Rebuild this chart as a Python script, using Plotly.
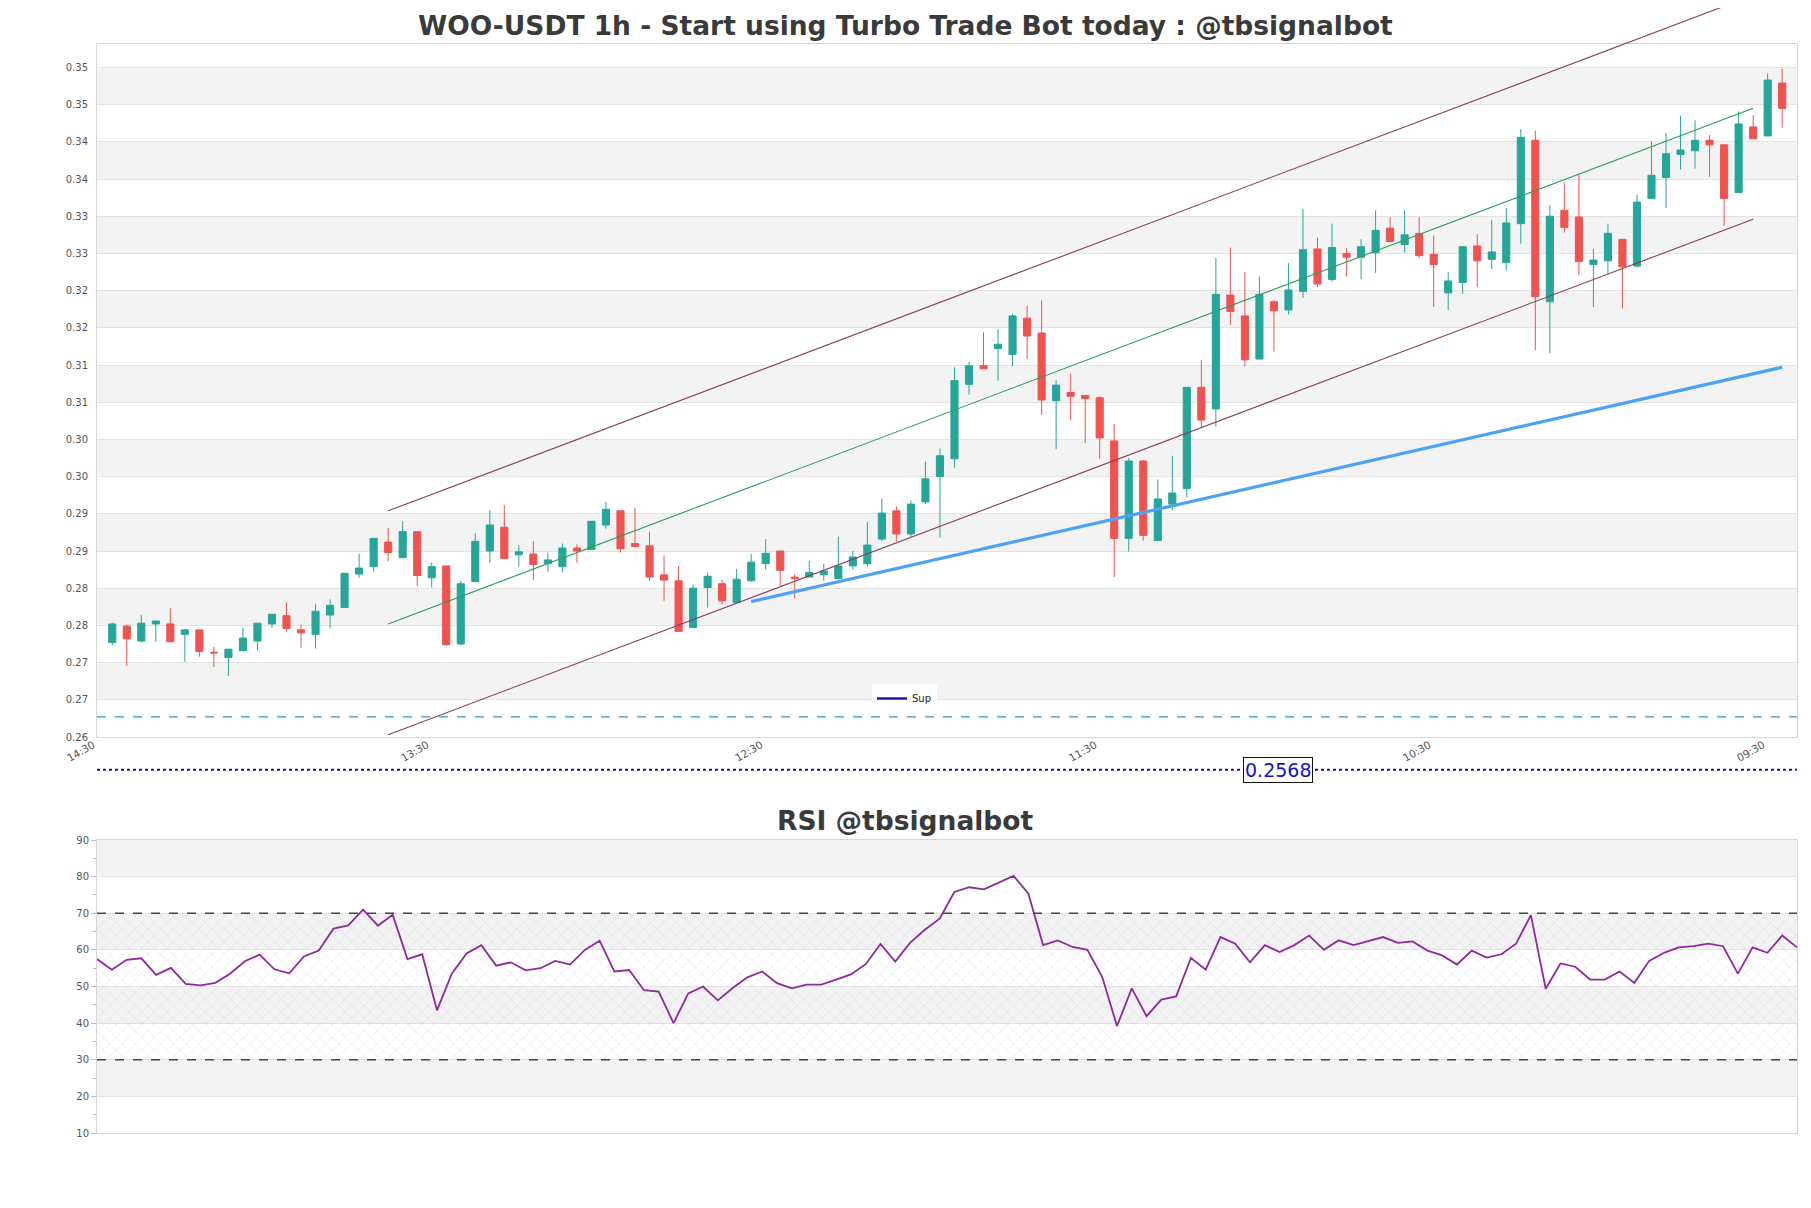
import plotly.graph_objects as go

# ---------------- data ----------------
candle_idx = list(range(116))
opens = [0.2739, 0.2761, 0.2741, 0.2764, 0.2764, 0.2750, 0.2756, 0.2726, 0.2719, 0.2728,
         0.2741, 0.2764, 0.2775, 0.2756, 0.2750, 0.2776, 0.2786, 0.2831, 0.2841, 0.2874,
         0.2853, 0.2888, 0.2826, 0.2842, 0.2737, 0.2821, 0.2862, 0.2894, 0.2857, 0.2858,
         0.2845, 0.2841, 0.2866, 0.2864, 0.2897, 0.2916, 0.2872, 0.2869, 0.2830, 0.2822,
         0.2759, 0.2813, 0.2818, 0.2793, 0.2822, 0.2845, 0.2862, 0.2827, 0.2827, 0.2830,
         0.2825, 0.2842, 0.2845, 0.2878, 0.2916, 0.2885, 0.2928, 0.2962, 0.2986, 0.3086,
         0.3111, 0.3134, 0.3126, 0.3175, 0.3155, 0.3064, 0.3075, 0.3071, 0.3068, 0.3010,
         0.2879, 0.2983, 0.2876, 0.2925, 0.2946, 0.3082, 0.3053, 0.3206, 0.3178, 0.3120,
         0.3197, 0.3186, 0.3211, 0.3268, 0.3227, 0.3262, 0.3257, 0.3263, 0.3296, 0.3274,
         0.3289, 0.3261, 0.3209, 0.3223, 0.3272, 0.3254, 0.3250, 0.3302, 0.3414, 0.3197,
         0.3320, 0.3311, 0.3247, 0.3252, 0.3281, 0.3245, 0.3336, 0.3364, 0.3395, 0.3400,
         0.3414, 0.3408, 0.3344, 0.3432, 0.3420, 0.3491]
highs = [0.2766, 0.2763, 0.2776, 0.2768, 0.2785, 0.2757, 0.2756, 0.2733, 0.2730, 0.2759,
         0.2765, 0.2777, 0.2793, 0.2763, 0.2791, 0.2797, 0.2832, 0.2858, 0.2879, 0.2893,
         0.2902, 0.2888, 0.2847, 0.2842, 0.2822, 0.2886, 0.2917, 0.2924, 0.2870, 0.2875,
         0.2860, 0.2872, 0.2871, 0.2902, 0.2928, 0.2916, 0.2920, 0.2888, 0.2856, 0.2842,
         0.2817, 0.2833, 0.2823, 0.2838, 0.2858, 0.2878, 0.2862, 0.2831, 0.2849, 0.2845,
         0.2881, 0.2862, 0.2901, 0.2932, 0.2922, 0.2930, 0.2982, 0.3000, 0.3109, 0.3116,
         0.3156, 0.3160, 0.3181, 0.3192, 0.3199, 0.3092, 0.3100, 0.3071, 0.3070, 0.3033,
         0.2987, 0.2984, 0.2958, 0.2990, 0.3082, 0.3119, 0.3256, 0.3270, 0.3237, 0.3231,
         0.3199, 0.3249, 0.3322, 0.3283, 0.3302, 0.3269, 0.3281, 0.3320, 0.3311, 0.3320,
         0.3311, 0.3286, 0.3237, 0.3271, 0.3288, 0.3307, 0.3323, 0.3429, 0.3427, 0.3327,
         0.3357, 0.3367, 0.3268, 0.3302, 0.3281, 0.3341, 0.3413, 0.3424, 0.3447, 0.3441,
         0.3421, 0.3408, 0.3453, 0.3448, 0.3504, 0.3510]
lows = [0.2735, 0.2708, 0.2739, 0.2740, 0.2740, 0.2713, 0.2720, 0.2706, 0.2694, 0.2728,
        0.2728, 0.2759, 0.2754, 0.2732, 0.2731, 0.2758, 0.2786, 0.2826, 0.2834, 0.2848,
        0.2853, 0.2815, 0.2813, 0.2735, 0.2735, 0.2821, 0.2846, 0.2852, 0.2841, 0.2823,
        0.2834, 0.2833, 0.2846, 0.2864, 0.2892, 0.2860, 0.2868, 0.2822, 0.2795, 0.2754,
        0.2759, 0.2786, 0.2790, 0.2793, 0.2821, 0.2837, 0.2814, 0.2798, 0.2827, 0.2822,
        0.2825, 0.2837, 0.2841, 0.2875, 0.2875, 0.2881, 0.2925, 0.2880, 0.2974, 0.3072,
        0.3107, 0.3091, 0.3110, 0.3120, 0.3045, 0.2999, 0.3038, 0.3007, 0.2986, 0.2827,
        0.2861, 0.2876, 0.2876, 0.2917, 0.2934, 0.3028, 0.3029, 0.3166, 0.3110, 0.3120,
        0.3130, 0.3180, 0.3202, 0.3217, 0.3224, 0.3231, 0.3227, 0.3236, 0.3278, 0.3263,
        0.3256, 0.3190, 0.3186, 0.3208, 0.3217, 0.3241, 0.3239, 0.3275, 0.3132, 0.3128,
        0.3290, 0.3233, 0.3190, 0.3235, 0.3188, 0.3243, 0.3336, 0.3323, 0.3375, 0.3376,
        0.3365, 0.3299, 0.3344, 0.3416, 0.3420, 0.3431]
closes = [0.2764, 0.2744, 0.2765, 0.2768, 0.2740, 0.2756, 0.2727, 0.2725, 0.2730, 0.2745,
          0.2765, 0.2777, 0.2758, 0.2752, 0.2781, 0.2789, 0.2832, 0.2839, 0.2879, 0.2860,
          0.2888, 0.2829, 0.2841, 0.2736, 0.2818, 0.2875, 0.2897, 0.2852, 0.2861, 0.2844,
          0.2850, 0.2866, 0.2862, 0.2902, 0.2918, 0.2865, 0.2868, 0.2827, 0.2823, 0.2754,
          0.2812, 0.2828, 0.2795, 0.2824, 0.2847, 0.2859, 0.2836, 0.2825, 0.2833, 0.2835,
          0.2842, 0.2854, 0.2870, 0.2913, 0.2885, 0.2925, 0.2959, 0.2990, 0.3091, 0.3111,
          0.3107, 0.3140, 0.3178, 0.3151, 0.3065, 0.3085, 0.3070, 0.3067, 0.3014, 0.2879,
          0.2983, 0.2883, 0.2932, 0.2940, 0.3082, 0.3038, 0.3207, 0.3184, 0.3119, 0.3207,
          0.3185, 0.3213, 0.3267, 0.3221, 0.3270, 0.3257, 0.3271, 0.3293, 0.3278, 0.3287,
          0.3259, 0.3247, 0.3225, 0.3271, 0.3252, 0.3264, 0.3303, 0.3418, 0.3204, 0.3312,
          0.3297, 0.3251, 0.3253, 0.3289, 0.3244, 0.3331, 0.3367, 0.3396, 0.3401, 0.3414,
          0.3408, 0.3336, 0.3436, 0.3416, 0.3495, 0.3457]

xtick_pos = [0, 23, 46, 69, 92, 115]
xtick_labels = ["14:30", "13:30", "12:30", "11:30", "10:30", "09:30"]

ytick_vals = [0.2612, 0.2662, 0.2712, 0.2762, 0.2812, 0.2862, 0.2912, 0.2962, 0.3012, 0.3062,
              0.3112, 0.3162, 0.3212, 0.3262, 0.3312, 0.3362, 0.3412, 0.3462, 0.3512]
ytick_labels = ["0.26", "0.27", "0.27", "0.28", "0.28", "0.29", "0.29", "0.30", "0.30", "0.31",
                "0.31", "0.32", "0.32", "0.33", "0.33", "0.34", "0.34", "0.35", "0.35"]
y_range = [0.2612, 0.35435]

# trend channel (start/end candle index and price)
chan_x = [19, 113]
chan_upper = [0.2916, 0.3609]
chan_mid = [0.2764, 0.3457]
chan_lower = [0.2615, 0.3308]

# support line
sup_x = [44, 115]
sup_y = [0.2794, 0.3109]

dash_level = 0.2639
sup_level = 0.2568
sup_label_x = 80.3

rsi_idx = list(range(116))
rsi = [57.5, 54.6, 57.3, 57.7, 53.2, 55.1, 50.7, 50.3, 51.0, 53.5,
       56.9, 58.7, 54.7, 53.6, 58.2, 59.8, 65.8, 66.7, 71.0, 66.6,
       69.6, 57.5, 58.8, 43.5, 53.5, 59.0, 61.3, 55.7, 56.6, 54.4,
       55.0, 57.0, 56.0, 60.0, 62.5, 54.1, 54.5, 49.0, 48.6, 40.0,
       48.1, 50.0, 46.2, 49.6, 52.5, 54.1, 50.9, 49.5, 50.5, 50.5,
       51.9, 53.3, 56.1, 61.6, 56.8, 61.9, 65.5, 68.5, 75.8, 77.1,
       76.5, 78.3, 80.2, 75.4, 61.3, 62.6, 60.8, 60.0, 52.6, 39.2,
       49.5, 41.9, 46.4, 47.3, 57.8, 54.6, 63.5, 61.7, 56.6, 61.3,
       59.4, 61.3, 63.9, 60.0, 62.6, 61.3, 62.3, 63.5, 61.9, 62.3,
       59.8, 58.5, 56.0, 59.8, 57.9, 58.8, 61.7, 69.5, 49.4, 56.3,
       55.4, 51.9, 51.9, 54.1, 51.0, 57.0, 59.2, 60.7, 61.0, 61.7,
       61.0, 53.5, 60.7, 59.2, 63.9, 60.7]
rsi_ticks = [10, 20, 30, 40, 50, 60, 70, 80, 90]
rsi_levels = [70, 30]
rsi_range = [10, 90]

# ---------------- layout geometry ----------------
# the page body adds an 8px margin, so the figure itself is placed 8px in
OFF = 8
W, H = 1795, 1192


def px_x(p):
    return (p - OFF) / W


def px_y(p):
    return (H - (p - OFF)) / H


x_dom = [px_x(97), px_x(1797)]
y_dom_main = [px_y(737), px_y(44)]
y_dom_rsi = [px_y(1133), px_y(840)]


def ypaper(v):
    return y_dom_main[0] + (v - y_range[0]) / (y_range[1] - y_range[0]) * (y_dom_main[1] - y_dom_main[0])


GRID = "#e3e3e3"
BORDER = "#d6d6d6"
STRIPE = "#f3f3f3"
TICKFONT = dict(family="DejaVu Sans", size=10, color="#555555")
TITLEFONT = dict(family="DejaVu Sans", size=26.5, color="#3a3a3a")

fig = go.Figure()

fig.add_trace(go.Candlestick(
    x=candle_idx, open=opens, high=highs, low=lows, close=closes,
    increasing=dict(line=dict(color="#26a69a", width=1), fillcolor="#26a69a"),
    decreasing=dict(line=dict(color="#ef5350", width=1), fillcolor="#ef5350"),
    whiskerwidth=0, showlegend=False, xaxis="x", yaxis="y", name="WOO-USDT"))

fig.add_trace(go.Scatter(
    x=sup_x, y=sup_y, mode="lines", line=dict(color="#4da3f3", width=3.2),
    showlegend=False, xaxis="x", yaxis="y", hoverinfo="skip"))

# legend entry for the Sup level
fig.add_trace(go.Scatter(
    x=[None], y=[None], mode="lines", name="Sup",
    line=dict(color="#1a1aa6", width=2.5), xaxis="x", yaxis="y"))

# RSI hatched zone
fig.add_trace(go.Scatter(
    x=[rsi_idx[0], rsi_idx[-1], rsi_idx[-1], rsi_idx[0], rsi_idx[0]],
    y=[rsi_levels[1], rsi_levels[1], rsi_levels[0], rsi_levels[0], rsi_levels[1]],
    mode="lines", fill="toself", line=dict(width=0), fillcolor="rgba(0,0,0,0)",
    fillpattern=dict(shape="x", fgcolor="rgba(165,145,190,0.65)", size=9, solidity=0.1),
    showlegend=False, hoverinfo="skip", xaxis="x2", yaxis="y2"))

fig.add_trace(go.Scatter(
    x=rsi_idx, y=rsi, mode="lines", line=dict(color="#8e2b9c", width=1.8),
    showlegend=False, xaxis="x2", yaxis="y2", name="RSI"))

shapes = []
# main stripes
for k in range(1, len(ytick_vals) - 1, 2):
    shapes.append(dict(type="rect", xref="x domain", yref="y", x0=0, x1=1,
                       y0=ytick_vals[k], y1=ytick_vals[k + 1], fillcolor=STRIPE,
                       line=dict(width=0), layer="below"))
# rsi stripes
for lo in [20, 40, 60, 80]:
    shapes.append(dict(type="rect", xref="x2 domain", yref="y2", x0=0, x1=1,
                       y0=lo, y1=lo + 10, fillcolor=STRIPE, line=dict(width=0), layer="below"))

# trend channel (drawn unclipped vertically, like the reference)
for vals, col in [(chan_upper, "#8a3d55"), (chan_mid, "#2e9e5c"), (chan_lower, "#8a3d55")]:
    shapes.append(dict(type="line", xref="x", yref="paper",
                       x0=chan_x[0], x1=chan_x[1], y0=ypaper(vals[0]), y1=ypaper(vals[1]),
                       line=dict(color=col, width=1.1), layer="above"))

# dashed level inside main plot
shapes.append(dict(type="line", xref="x domain", yref="y", x0=0, x1=1,
                   y0=dash_level, y1=dash_level,
                   line=dict(color="#2398d2", width=1.4, dash="dash")))
# Sup level (below the visible range)
shapes.append(dict(type="line", xref="x domain", yref="paper", x0=0, x1=1,
                   y0=ypaper(sup_level), y1=ypaper(sup_level),
                   line=dict(color="#1010c8", width=2.2, dash="dot")))
# RSI levels
for lv in rsi_levels:
    shapes.append(dict(type="line", xref="x2 domain", yref="y2", x0=0, x1=1,
                       y0=lv, y1=lv, line=dict(color="#444444", width=1.3, dash="dash")))

annotations = [
    dict(text="<b>WOO-USDT 1h - Start using Turbo Trade Bot today : @tbsignalbot</b>",
         xref="paper", yref="paper", x=px_x(905.5), y=1.0, xanchor="center", yanchor="top",
         showarrow=False, font=TITLEFONT),
    dict(text="<b>RSI @tbsignalbot</b>",
         xref="paper", yref="paper", x=px_x(905.5), y=px_y(820), xanchor="center", yanchor="middle",
         showarrow=False, font=TITLEFONT),
    dict(text=f"{sup_level:.4f}", xref="x", yref="paper", x=sup_label_x, y=ypaper(sup_level),
         xanchor="center", yanchor="middle", showarrow=False,
         font=dict(family="DejaVu Sans", size=19, color="#1414c8"),
         bgcolor="white", bordercolor="#111111", borderwidth=1, borderpad=1),
]

fig.update_layout(
    width=W, height=H, margin=dict(l=0, r=0, t=0, b=0, autoexpand=False),
    paper_bgcolor="white", plot_bgcolor="white",
    shapes=shapes, annotations=annotations,
    showlegend=True,
    legend=dict(x=px_x(872), y=px_y(684), xanchor="left", yanchor="top",
                bgcolor="white", borderwidth=0, itemwidth=30,
                font=dict(family="DejaVu Sans", size=10, color="#222")),
    xaxis=dict(domain=x_dom, anchor="y", range=[-1.05, 116.02], automargin=False,
               tickvals=xtick_pos, ticktext=xtick_labels, tickangle=-30, ticklabelshift=-19,
               ticklabelstandoff=-3,
               tickfont=dict(family="DejaVu Sans", size=10.5, color="#555"),
               showgrid=False, zeroline=False, showline=True, mirror=True,
               linecolor=BORDER, linewidth=1, ticks="",
               rangeslider=dict(visible=False)),
    yaxis=dict(domain=y_dom_main, anchor="x", range=y_range, automargin=False,
               tickvals=ytick_vals, ticktext=ytick_labels, tickfont=TICKFONT,
               showgrid=True, gridcolor=GRID, zeroline=False, showline=True, mirror=True,
               linecolor=BORDER, linewidth=1, ticks="", ticklabelstandoff=6),
    xaxis2=dict(domain=x_dom, anchor="y2", range=[rsi_idx[0], rsi_idx[-1]], automargin=False,
                showticklabels=False, showgrid=False, zeroline=False, showline=True,
                mirror=True, linecolor=BORDER, linewidth=1, ticks=""),
    yaxis2=dict(domain=y_dom_rsi, anchor="x2", range=rsi_range, automargin=False,
                tickvals=rsi_ticks, tickfont=TICKFONT,
                showgrid=True, gridcolor=GRID, zeroline=False, showline=True, mirror=True,
                linecolor=BORDER, linewidth=1, ticks="outside", ticklen=5, tickcolor="#bbbbbb",
                minor=dict(dtick=5, ticks="outside", ticklen=3, tickcolor="#bbbbbb", showgrid=False)),
)

fig.write_html("out.html")
